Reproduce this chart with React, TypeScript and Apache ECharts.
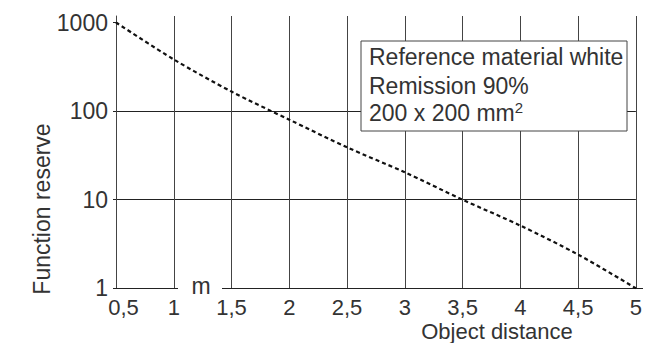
import React, { useEffect, useRef } from "react";
import * as echarts from "echarts";

const distances = [0.5, 1, 1.5, 2, 2.5, 3, 3.5, 4, 4.5, 5];
const reserve = [1000, 383, 166, 80, 39, 20.4, 10, 5.1, 2.4, 1];
const yTickValues = [1, 10, 100, 1000];
const boxLines = ["Reference material white", "Remission 90%"];
const boxLastLine = "200 x 200 mm";
const boxSup = "2";
const xName = "Object distance";
const yName = "Function reserve";
const unitLabel = "m";

const FONT = "'Liberation Sans', Arial, Helvetica, sans-serif";
const TXT = "#333";
const FS = 23;
const FSX = 22;

export default function App() {
  const ref = useRef<HTMLDivElement>(null);
  useEffect(() => {
    if (!ref.current) return;
    const chart = echarts.init(ref.current, null, { renderer: "svg" });
    const yMax = 1000 * Math.pow(10, 6.5 / 88.6);
    const isPow10 = (v: number) =>
      yTickValues.some((t) => Math.abs(v - t) / t < 1e-6);
    chart.setOption({
      animation: false,
      backgroundColor: "#fff",
      grid: { left: 116, right: 8.5, top: 16, bottom: 54.7, containLabel: false },
      xAxis: {
        type: "value",
        min: 0.5,
        max: 5,
        interval: 0.5,
        axisLine: { show: true, lineStyle: { color: "#222", width: 1 } },
        axisTick: { show: false },
        splitLine: { show: true, lineStyle: { color: "#444", width: 1 } },
        axisLabel: {
          fontSize: FSX,
          lineHeight: 18,
          fontFamily: FONT,
          color: TXT,
          margin: 10,
          showMinLabel: true,
          showMaxLabel: true,
          formatter: (v: number) => {
            const s = String(v).replace(".", ",");
            return v === 0.5 ? "{first|" + s + "}" : s;
          },
          rich: {
            first: {
              fontSize: FSX,
              lineHeight: 18,
              fontFamily: FONT,
              color: TXT,
              padding: [0, 0, 0, 15],
            },
          },
        },
      },
      yAxis: {
        type: "log",
        logBase: 10,
        min: 1,
        max: yMax,
        axisLine: { show: true, lineStyle: { color: "#444", width: 1 } },
        axisTick: {
          show: true,
          length: 3,
          customValues: yTickValues,
          lineStyle: { color: "#222", width: 1 },
        },
        splitLine: {
          show: true,
          showMaxLine: false,
          lineStyle: { color: "#222", width: 1 },
        },
        axisLabel: {
          fontSize: FS,
          fontFamily: FONT,
          color: TXT,
          margin: 8,
          showMaxLabel: false,
          formatter: (v: number) => (isPow10(v) ? String(Math.round(v)) : ""),
        },
      },
      series: [
        {
          type: "line",
          data: distances.map((d, i) => [d, reserve[i]]),
          smooth: 0.3,
          symbol: "none",
          lineStyle: { color: "#111", width: 2.2, type: [4, 3] },
          z: 5,
        },
      ],
      graphic: [
        {
          type: "rect",
          z: 100,
          shape: { x: 178, y: 284, width: 44, height: 8 },
          style: { fill: "#fff" },
        },
        {
          type: "text",
          z: 101,
          x: 201,
          y: 286,
          style: {
            text: unitLabel,
            fontSize: FS,
            fontFamily: FONT,
            fill: TXT,
            align: "center",
            verticalAlign: "middle",
          },
        },
        {
          type: "line",
          z: 100,
          shape: { x1: 636, y1: 288.5, x2: 643, y2: 288.5 },
          style: { stroke: "#222", lineWidth: 1 },
        },
        {
          type: "text",
          z: 100,
          x: 497,
          y: 331,
          style: {
            text: xName,
            fontSize: FSX,
            lineHeight: 20,
            fontFamily: FONT,
            fill: TXT,
            align: "center",
            verticalAlign: "middle",
          },
        },
        {
          type: "text",
          z: 100,
          x: 42,
          y: 209,
          rotation: Math.PI / 2,
          style: {
            text: yName,
            fontSize: FS,
            fontFamily: FONT,
            fill: TXT,
            align: "center",
            verticalAlign: "middle",
          },
        },
        {
          type: "rect",
          z: 100,
          shape: { x: 361, y: 41, width: 266, height: 90 },
          style: { fill: "#fff", stroke: "#444", lineWidth: 1 },
        },
        {
          type: "text",
          z: 101,
          x: 369,
          y: 57,
          style: {
            text: boxLines[0],
            fontSize: FS,
            fontFamily: FONT,
            fill: TXT,
            align: "left",
            verticalAlign: "middle",
          },
        },
        {
          type: "text",
          z: 101,
          x: 369,
          y: 85.5,
          style: {
            text: boxLines[1],
            fontSize: FS,
            fontFamily: FONT,
            fill: TXT,
            align: "left",
            verticalAlign: "middle",
          },
        },
        {
          type: "text",
          z: 101,
          x: 369,
          y: 113,
          style: {
            text: "{a|" + boxLastLine + "}{sup|" + boxSup + "}",
            fontSize: FS,
            fontFamily: FONT,
            fill: TXT,
            align: "left",
            verticalAlign: "middle",
            rich: {
              a: { fontSize: FS, fontFamily: FONT, fill: TXT, lineHeight: 26 },
              sup: {
                fontSize: 15,
                fontFamily: FONT,
                fill: TXT,
                lineHeight: 15,
                verticalAlign: "top",
              },
            },
          },
        },
      ],
    });
    return () => chart.dispose();
  }, []);
  return (
    <div
      ref={ref}
      style={{ position: "absolute", left: 0, top: 0, width: 645, height: 343 }}
    />
  );
}
